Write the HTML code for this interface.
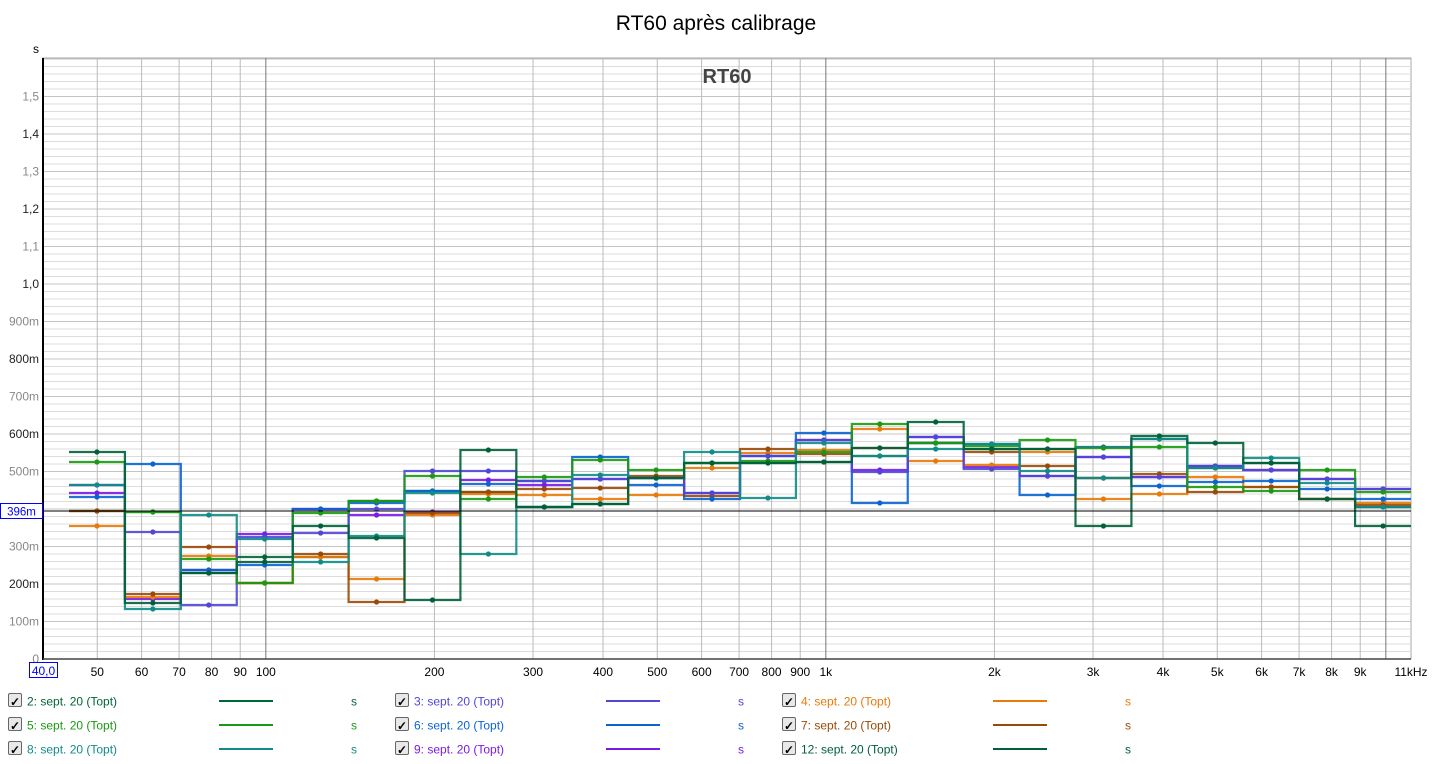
<!DOCTYPE html>
<html><head><meta charset="utf-8"><style>
body{margin:0;background:#fff;width:1433px;height:764px;overflow:hidden;font-family:"Liberation Sans",sans-serif}
svg{position:absolute;left:0;top:0}
</style></head><body>
<svg id="s" width="1433" height="764" xmlns="http://www.w3.org/2000/svg" font-family="Liberation Sans, sans-serif">
<text x="716" y="30" font-size="21" text-anchor="middle" fill="#000">RT60 après calibrage</text>
<text x="36" y="53" font-size="12" text-anchor="middle" fill="#000">s</text>
<g id="grid"></g>
<g id="series"></g>
<text x="727" y="83" font-size="20" font-weight="bold" text-anchor="middle" fill="#444">RT60</text>
<line x1="43" y1="511" x2="1411" y2="511" stroke="#000" stroke-width="1"/>
<rect x="0.5" y="503.5" width="42" height="15" fill="#fff" stroke="#00f"/>
<text x="21.5" y="515.5" font-size="11.5" text-anchor="middle" fill="#00f">396m</text>
<g id="legend"></g>
</svg>
<script>
const NS="http://www.w3.org/2000/svg";
function el(p,t,a,txt){const e=document.createElementNS(NS,t);for(const k in a)e.setAttribute(k,a[k]);if(txt!==undefined)e.textContent=txt;p.appendChild(e);return e;}
const g=document.getElementById('grid'),S=document.getElementById('series'),L=document.getElementById('legend');
const X0=43,X1=1411,Y0=659,Yt=58;
const fx=f=>X0+560*(Math.log10(f)-Math.log10(40));
el(g,'rect',{x:X0,y:Yt,width:X1-X0,height:Y0-Yt,fill:'#fff',stroke:'#aaa'});
for(let ms=20;ms<=1600;ms+=20){const y=Y0-0.375*ms;if(y<Yt)break;el(g,'line',{x1:X0,x2:X1,y1:y,y2:y,stroke:ms%100==0?'#c4c4c4':'#dcdcdc','stroke-width':1});}
const labs=['100m','200m','300m','400m','500m','600m','700m','800m','900m','1,0','1,1','1,2','1,3','1,4','1,5'];
labs.forEach((t,i)=>{if(i==3)return;const y=Y0-0.375*100*(i+1);el(g,'text',{x:39,y:y+4,'font-size':12,'text-anchor':'end',fill:(i%2==1)?'#222':'#888'},t);});
el(g,'text',{x:39,y:663,'font-size':12,'text-anchor':'end',fill:'#888'},'0');
const fr=[];for(let d of [10,100,1000])for(let m=1;m<=9;m++)fr.push(m*d);fr.push(10000);
fr.forEach(f=>{if(f<=40)return;const x=fx(f);if(x>X1)return;const maj=(f==100||f==1000||f==10000);el(g,'line',{x1:x,x2:x,y1:Yt,y2:Y0,stroke:maj?'#777':'#bbb','stroke-width':1});});
el(g,'line',{x1:X0,x2:X0,y1:Yt,y2:Y0+1,stroke:'#000','stroke-width':2});
el(g,'line',{x1:X0,x2:X1,y1:Y0,y2:Y0,stroke:'#444','stroke-width':1.5});
const xl=[[50,'50'],[60,'60'],[70,'70'],[80,'80'],[90,'90'],[100,'100'],[200,'200'],[300,'300'],[400,'400'],[500,'500'],[600,'600'],[700,'700'],[800,'800'],[900,'900'],[1000,'1k'],[2000,'2k'],[3000,'3k'],[4000,'4k'],[5000,'5k'],[6000,'6k'],[7000,'7k'],[8000,'8k'],[9000,'9k']];
xl.forEach(([f,t])=>el(g,'text',{x:fx(f),y:676,'font-size':12,'text-anchor':'middle',fill:'#000'},t));
el(g,'text',{x:1411,y:676,'font-size':12,'text-anchor':'middle',fill:'#000'},'11kHz');
el(g,'rect',{x:29.5,y:662.5,width:28,height:15,fill:'#fff',stroke:'#00f'});
el(g,'text',{x:43.5,y:675,'font-size':12,'text-anchor':'middle',fill:'#00f'},'40,0');
const C={2:'#006633',3:'#5046d8',4:'#e87a0a',5:'#1a9a10',6:'#0a64d0',7:'#9a4a08',8:'#108c88',9:'#7a1ae8',12:'#00603a'};
const D={
2:[511,512,573,557,557,501,491,492,507,504,478,463,463,462,456,443,449,449,478,439,468,463,499,507],
9:[493,599,570,534,509,515,512,480,485,479,478,493,456,440,470,437,467,476,457,477,466,470,479,489],
4:[526,597,556,583,557,579,515,494,495,499,495,468,453,450,429,461,465,452,499,494,477,487,499,503],
7:[511,594,547,583,554,602,513,492,489,488,476,496,449,454,448,443,452,466,478,474,492,487,499,505],
6:[497,464,570,565,509,503,491,484,481,457,485,499,456,433,503,443,444,495,447,486,482,481,489,499],
3:[485,532,605,537,533,509,471,471,481,479,478,493,456,440,472,437,469,476,457,477,466,470,479,489],
5:[462,512,559,583,513,501,476,499,477,460,470,463,461,452,424,443,446,440,448,447,487,491,470,492],
8:[485,609,515,539,562,536,493,554,507,475,478,452,498,443,456,449,444,471,478,439,468,458,483,507],
12:[452,603,573,562,526,538,600,450,507,504,478,463,463,462,448,422,449,449,526,436,443,463,499,526]};
const W=(1411-69)/24,c0=69+W/2;
for(const k of [2,9,4,7,6,3,5,8,12]){const v=D[k];let d='';v.forEach((y,i)=>{const xc=c0+W*i,xa=xc-W/2,xb=xc+W/2;d+=(i==0?'M'+xa+' '+y:' L'+xa+' '+y)+' L'+xb+' '+y;});
el(S,'path',{d:d,fill:'none',stroke:C[k],'stroke-width':2.2,'stroke-opacity':0.9});
v.forEach((y,i)=>el(S,'circle',{cx:c0+W*i,cy:y,r:2.6,fill:C[k]}));}
const rows=[[2,3,4],[5,6,7],[8,9,12]];
rows.forEach((r,ri)=>r.forEach((k,ci)=>{const ox=ci*387,y=701+ri*24;
el(L,'rect',{x:8.5+ox,y:y-7.5,width:13,height:13,fill:'#e8e8e8',stroke:'#666',rx:1.5});
el(L,'text',{x:10+ox,y:y+5,'font-size':12,'font-weight':'bold',fill:'#000'},'✓');
el(L,'text',{x:27+ox,y:y+4.5,'font-size':12,fill:C[k]},k+': sept. 20 (Topt)');
el(L,'line',{x1:219+ox,x2:273+ox,y1:y,y2:y,stroke:C[k],'stroke-width':2});
el(L,'text',{x:351+ox,y:y+4.5,'font-size':12,fill:C[k]},'s');}));
</script>
</body></html>
